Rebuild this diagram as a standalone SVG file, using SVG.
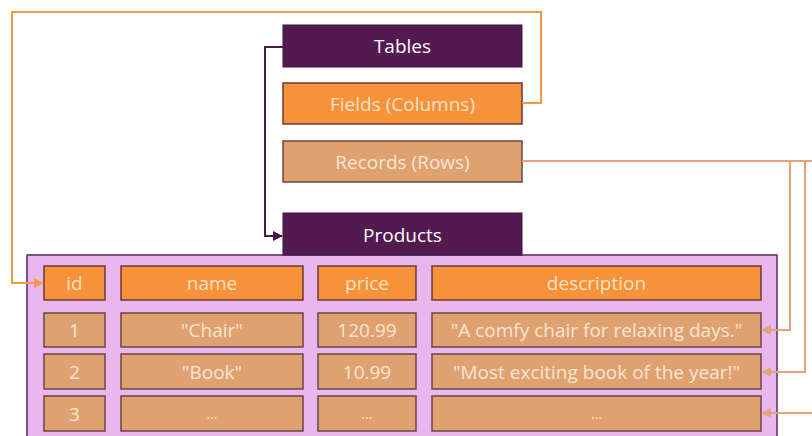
<svg xmlns="http://www.w3.org/2000/svg" width="812" height="436" viewBox="0 0 812 436">
<defs>
<style>
.t{font-family:"Open Sans","Lato","Liberation Sans",sans-serif;font-size:19px;text-anchor:middle;dominant-baseline:central}
.dark{fill:#521a4f;stroke:#3e1240;stroke-width:1}
.org{fill:#f7913a;stroke:#6b3a3a;stroke-width:1.5}
.tan{fill:#dfa170;stroke:#6b4448;stroke-width:1.5}
.wt{fill:#ffffff}
.lt{fill:#fbe3c6}
.tt{fill:#fae6d4}
.cp{fill:none;stroke:#4a1848;stroke-width:2}
.co{fill:none;stroke:#f2984a;stroke-width:2}
.cr{fill:none;stroke:#e2a37c;stroke-width:2}
</style>
<marker id="ap" viewBox="0 0 10 10" refX="9" refY="5" markerWidth="5" markerHeight="5" orient="auto"><path d="M0,0L10,5L0,10z" fill="#4a1848"/></marker>
<marker id="ao" viewBox="0 0 10 10" refX="9" refY="5" markerWidth="5" markerHeight="5" orient="auto"><path d="M0,0L10,5L0,10z" fill="#f2984a"/></marker>
<marker id="ar" viewBox="0 0 10 10" refX="9" refY="5" markerWidth="5" markerHeight="5" orient="auto"><path d="M0,0L10,5L0,10z" fill="#e2a37c"/></marker>
</defs>
<rect width="812" height="436" fill="#ffffff"/>
<g id="container"><rect x="27" y="255" width="750" height="190" fill="#e9b6ee" stroke="#5a2a5a" stroke-width="1.5"/></g>
<g id="tables"><rect class="dark" x="283" y="25" width="239" height="42"/><text class="t wt" x="402.5" y="46">Tables</text></g>
<g id="fields"><rect class="org" x="283" y="83" width="239" height="41"/><text class="t lt" x="402.5" y="103.5">Fields (Columns)</text></g>
<g id="records"><rect class="tan" x="283" y="141" width="239" height="41"/><text class="t tt" x="402.5" y="161.5">Records (Rows)</text></g>
<g id="products"><rect class="dark" x="283" y="213" width="239" height="42"/><text class="t wt" x="402.5" y="234.5">Products</text></g>
<g id="h-id"><rect class="org" x="44" y="266" width="61" height="34"/><text class="t lt" x="74.5" y="283">id</text></g>
<g id="h-name"><rect class="org" x="121" y="266" width="182" height="34"/><text class="t lt" x="212" y="283">name</text></g>
<g id="h-price"><rect class="org" x="318" y="266" width="98" height="34"/><text class="t lt" x="367" y="283">price</text></g>
<g id="h-desc"><rect class="org" x="432" y="266" width="329" height="34"/><text class="t lt" x="596.5" y="283">description</text></g>
<g id="r1-id"><rect class="tan" x="44" y="313" width="61" height="34"/><text class="t tt" x="74.5" y="330">1</text></g>
<g id="r1-name"><rect class="tan" x="121" y="313" width="182" height="34"/><text class="t tt" x="212" y="330">"Chair"</text></g>
<g id="r1-price"><rect class="tan" x="318" y="313" width="98" height="34"/><text class="t tt" x="367" y="330">120.99</text></g>
<g id="r1-desc"><rect class="tan" x="432" y="313" width="329" height="34"/><text class="t tt" x="596.5" y="330">"A comfy chair for relaxing days."</text></g>
<g id="r2-id"><rect class="tan" x="44" y="354" width="61" height="35"/><text class="t tt" x="74.5" y="371.5">2</text></g>
<g id="r2-name"><rect class="tan" x="121" y="354" width="182" height="35"/><text class="t tt" x="212" y="371.5">"Book"</text></g>
<g id="r2-price"><rect class="tan" x="318" y="354" width="98" height="35"/><text class="t tt" x="367" y="371.5">10.99</text></g>
<g id="r2-desc"><rect class="tan" x="432" y="354" width="329" height="35"/><text class="t tt" x="596.5" y="371.5">"Most exciting book of the year!"</text></g>
<g id="r3-id"><rect class="tan" x="44" y="396" width="61" height="35"/><text class="t tt" x="74.5" y="413.5">3</text></g>
<g id="r3-name"><rect class="tan" x="121" y="396" width="182" height="35"/><text class="t tt" x="212" y="413.5" style="font-size:14px">...</text></g>
<g id="r3-price"><rect class="tan" x="318" y="396" width="98" height="35"/><text class="t tt" x="367" y="413.5" style="font-size:14px">...</text></g>
<g id="r3-desc"><rect class="tan" x="432" y="396" width="329" height="35"/><text class="t tt" x="596.5" y="413.5" style="font-size:14px">...</text></g>
<g id="connectors">
<path class="cp" d="M283,47H265V236H282" marker-end="url(#ap)"/>
<path class="co" d="M522,103H541V12H12V283H43" marker-end="url(#ao)"/>
<path class="cr" d="M522,161H812"/>
<path class="cr" d="M790,161V330H762" marker-end="url(#ar)"/>
<path class="cr" d="M805,161V372H762" marker-end="url(#ar)"/>
<path class="cr" d="M812,413H762" marker-end="url(#ar)"/>
</g>
</svg>
